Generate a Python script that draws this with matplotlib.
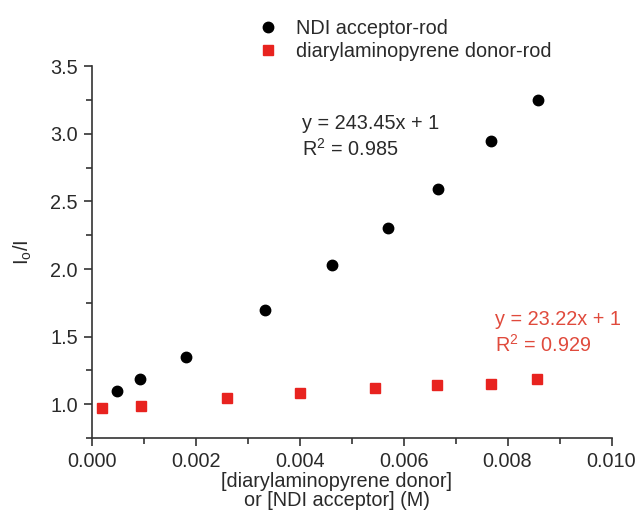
import matplotlib
matplotlib.use("Agg")
import matplotlib.pyplot as plt
from matplotlib.ticker import MultipleLocator, FormatStrFormatter

# concentration (M) and I0/I values
ndi_x = [0.00048, 0.00093, 0.00181, 0.00333, 0.00462, 0.00570, 0.00667, 0.00768, 0.00858]
ndi_y = [1.096, 1.185, 1.350, 1.700, 2.028, 2.304, 2.590, 2.945, 3.250]
pyr_x = [0.00019, 0.00094, 0.00260, 0.00400, 0.00545, 0.00665, 0.00768, 0.00856]
pyr_y = [0.973, 0.988, 1.047, 1.087, 1.120, 1.140, 1.150, 1.187]

labels = ["NDI acceptor-rod", "diarylaminopyrene donor-rod"]
fit_ndi = ["y = 243.45x + 1", "R$^2$ = 0.985"]
fit_pyr = ["y = 23.22x + 1", "R$^2$ = 0.929"]

plt.rcParams['font.family'] = ['Liberation Sans', 'DejaVu Sans']
plt.rcParams['mathtext.fontset'] = 'custom'
plt.rcParams['mathtext.rm'] = 'Liberation Sans'

red = '#e8231f'
axc = '#333333'
txt = '#2a2a2a'
fs = 14.3

fig = plt.figure(figsize=(6.37, 5.13), dpi=100)
ax = fig.add_axes([0.144, 0.146, 0.816, 0.725])

ax.plot(ndi_x, ndi_y, 'o', color='black', markersize=7.5, label=labels[0], clip_on=False)
ax.plot(pyr_x, pyr_y, 's', color=red, markersize=6.5, label=labels[1], clip_on=False)

ax.set_xlim(0, 0.010)
ax.set_ylim(0.75, 3.5)
ax.xaxis.set_major_locator(MultipleLocator(0.002))
ax.xaxis.set_minor_locator(MultipleLocator(0.001))
ax.xaxis.set_major_formatter(FormatStrFormatter('%.3f'))
ax.yaxis.set_major_locator(MultipleLocator(0.5))
ax.yaxis.set_minor_locator(MultipleLocator(0.25))
ax.yaxis.set_major_formatter(FormatStrFormatter('%.1f'))

for s in ['top', 'right']:
    ax.spines[s].set_visible(False)
for s in ['left', 'bottom']:
    ax.spines[s].set_color(axc)
    ax.spines[s].set_linewidth(1.2)
ax.tick_params(which='major', direction='out', length=6, width=1.2, color=axc,
               labelsize=fs, labelcolor=txt, pad=4)
ax.tick_params(which='minor', direction='out', length=4, width=1.2, color=axc)

ax.set_ylabel(r'$\mathregular{I_o/I}$', fontsize=fs, color=txt, labelpad=12)

# x label drawn as figure text so it can sit right under the tick labels
fig.text(0.529, 0.043, '[diarylaminopyrene donor]\nor [NDI acceptor] (M)', fontsize=fs,
         color=txt, ha='center', va='center', linespacing=1.05)

leg = fig.legend(handles=ax.get_lines(), loc='upper left', bbox_to_anchor=(0.405, 0.963),
                 frameon=False, fontsize=fs, handletextpad=0.9, labelspacing=0.22,
                 handlelength=1.0, borderaxespad=0, borderpad=0)
for t in leg.get_texts():
    t.set_color(txt)

ax.text(0.405, 0.872, fit_ndi[0] + '\n' + fit_ndi[1], transform=ax.transAxes,
        fontsize=fs, color=txt, va='top', ha='left', linespacing=1.3)
ax.text(0.776, 0.345, fit_pyr[0] + '\n' + fit_pyr[1], transform=ax.transAxes,
        fontsize=fs, color='#e04a3c', va='top', ha='left', linespacing=1.3)

fig.savefig('out.png', dpi=100)
